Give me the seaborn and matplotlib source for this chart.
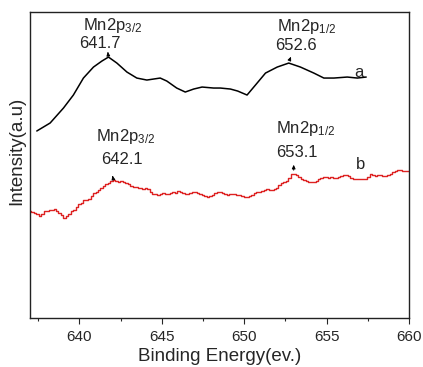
import numpy as np
import pandas as pd
import matplotlib
matplotlib.use("Agg")
import matplotlib.pyplot as plt
import seaborn as sns

# curve a (black), binding energy vs intensity (arb.)
energy_a = [637.41, 638.22, 639.03, 639.63, 640.24, 640.85, 641.36, 641.76, 642.27, 642.88,
            643.48, 644.09, 644.9, 645.3, 645.9, 646.42, 646.93, 647.44, 648.14, 648.55,
            649.16, 649.6, 650.17, 650.68, 651.29, 652.0, 652.7, 653.41, 654.22, 654.83,
            655.44, 656.25, 656.86, 657.4]
intensity_a = [187, 195, 210, 223, 240, 251, 257, 261, 255, 246,
               240, 238, 240, 237, 230, 226, 229, 231, 230, 230,
               229, 227, 223, 233, 245, 251, 255, 251, 245, 240,
               240, 241, 240, 241]

# curve b (red)
energy_b = [637.00, 637.15, 637.30, 637.45, 637.60, 637.75, 637.90, 638.05, 638.20, 638.35,
            638.50, 638.65, 638.80, 638.95, 639.10, 639.25, 639.40, 639.55, 639.70, 639.85,
            640.00, 640.15, 640.30, 640.45, 640.60, 640.75, 640.90, 641.05, 641.20, 641.35,
            641.50, 641.65, 641.80, 641.95, 642.10, 642.25, 642.40, 642.55, 642.70, 642.85,
            643.00, 643.15, 643.30, 643.45, 643.60, 643.75, 643.90, 644.05, 644.20, 644.35,
            644.50, 644.65, 644.80, 644.95, 645.10, 645.25, 645.40, 645.55, 645.70, 645.85,
            646.00, 646.15, 646.30, 646.45, 646.60, 646.75, 646.90, 647.05, 647.20, 647.35,
            647.50, 647.65, 647.80, 647.95, 648.10, 648.25, 648.40, 648.55, 648.70, 648.85,
            649.00, 649.15, 649.30, 649.45, 649.60, 649.75, 649.90, 650.05, 650.20, 650.35,
            650.50, 650.65, 650.80, 650.95, 651.10, 651.25, 651.40, 651.55, 651.70, 651.85,
            652.00, 652.15, 652.30, 652.45, 652.60, 652.75, 652.90, 653.05, 653.20, 653.35,
            653.50, 653.65, 653.80, 653.95, 654.10, 654.25, 654.40, 654.55, 654.70, 654.85,
            655.00, 655.15, 655.30, 655.45, 655.60, 655.75, 655.90, 656.05, 656.20, 656.35,
            656.50, 656.65, 656.80, 656.95, 657.10, 657.25, 657.40, 657.55, 657.70, 657.85,
            658.00, 658.15, 658.30, 658.45, 658.60, 658.75, 658.90, 659.05, 659.20, 659.35,
            659.50, 659.65, 659.80, 659.95, 660.10]
intensity_b = [107, 106, 105, 104, 102, 104, 107, 107, 108, 108,
               109, 107, 105, 103, 100, 102, 104, 107, 108, 111,
               114, 115, 118, 118, 119, 122, 125, 126, 128, 130,
               132, 134, 135, 137, 138, 137, 136, 137, 136, 135,
               134, 132, 131, 131, 130, 130, 129, 130, 129, 126,
               124, 124, 123, 124, 125, 124, 124, 125, 126, 125,
               127, 126, 125, 124, 124, 125, 126, 126, 125, 124,
               123, 122, 121, 122, 123, 125, 126, 126, 125, 124,
               123, 124, 124, 124, 123, 123, 122, 121, 121, 122,
               123, 125, 126, 126, 127, 128, 129, 128, 128, 129,
               130, 133, 135, 136, 137, 140, 144, 144, 143, 141,
               139, 138, 137, 136, 136, 136, 137, 139, 140, 141,
               141, 140, 141, 140, 140, 141, 142, 143, 143, 142,
               140, 139, 139, 139, 139, 139, 139, 141, 144, 143,
               142, 143, 143, 142, 142, 143, 144, 146, 147, 148,
               148, 147, 147, 147, 147]

df_a = pd.DataFrame({"energy": energy_a, "intensity": intensity_a})
df_b = pd.DataFrame({"energy": energy_b, "intensity": intensity_b})

sns.set_style("ticks")
plt.rcParams["font.family"] = ["Liberation Sans", "DejaVu Sans"]
plt.rcParams["mathtext.default"] = "regular"

fig = plt.figure(figsize=(4.23, 3.67), dpi=100)
ax = fig.add_axes([0.071, 0.134, 0.896, 0.833])

sns.lineplot(data=df_a, x="energy", y="intensity", color="black", linewidth=1.1, ax=ax)
sns.lineplot(data=df_b, x="energy", y="intensity", color="#dd2222", linewidth=1.0,
             drawstyle="steps-mid", ax=ax)

ax.set_xlim(637, 660)
ax.set_ylim(0, 306)
ax.set_xticks([640, 645, 650, 655, 660])
ax.set_xticks(np.arange(637.5, 660, 2.5), minor=True)
ax.set_yticks([])
ax.tick_params(axis="x", which="major", length=4, width=0.8, labelsize=11, pad=5)
ax.tick_params(axis="x", which="minor", length=2.5, width=0.8)
for s in ax.spines.values():
    s.set_visible(True)
    s.set_linewidth(1.0)
    s.set_color("#222222")

ax.set_xlabel("Binding Energy(ev.)", fontsize=13.5, labelpad=3)
ax.set_ylabel("Intensity(a.u)", fontsize=13.5)
ax.yaxis.set_label_coords(-0.012, 0.546)

fs = 12
# curve a labels
ax.text(640.2, 293, "Mn2p$_{3/2}$", fontsize=fs, va="center")
ax.text(640.0, 275, "641.7", fontsize=fs, va="center")
ax.text(652.0, 292, "Mn2p$_{1/2}$", fontsize=fs, va="center")
ax.text(651.85, 273, "652.6", fontsize=fs, va="center")
ax.text(656.7, 246, "a", fontsize=fs, va="center")
# curve b labels
ax.text(641.0, 181, "Mn2p$_{3/2}$", fontsize=fs, va="center")
ax.text(641.3, 158, "642.1", fontsize=fs, va="center")
ax.text(651.9, 190, "Mn2p$_{1/2}$", fontsize=fs, va="center")
ax.text(651.95, 165, "653.1", fontsize=fs, va="center")
ax.text(656.8, 153, "b", fontsize=fs, va="center")

arrow = dict(arrowstyle="-|>,head_length=0.22,head_width=0.1", color="black", lw=0.7)
ax.annotate("", xy=(641.7, 269), xytext=(641.75, 262), arrowprops=arrow)
ax.annotate("", xy=(652.9, 264), xytext=(652.7, 256), arrowprops=arrow)
ax.annotate("", xy=(641.97, 145), xytext=(642.06, 138), arrowprops=arrow)
ax.annotate("", xy=(653.0, 156), xytext=(653.0, 145), arrowprops=arrow)

fig.savefig("out.png", dpi=100)
